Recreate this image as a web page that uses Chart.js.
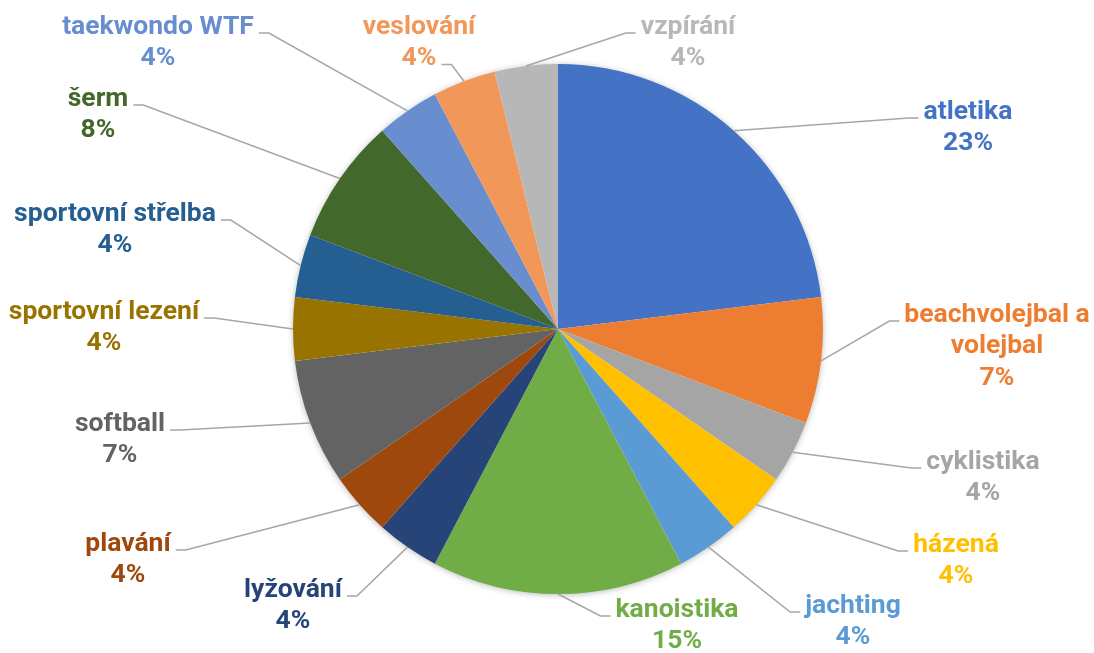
<!DOCTYPE html>
<html>
<head>
<meta charset="utf-8">
<title>Sporty</title>
<script src="https://cdn.jsdelivr.net/npm/chart.js"></script>
<style>
  body { margin: 0; background: #fff; }
</style>
</head>
<body>
<canvas id="pie" width="1094" height="653"></canvas>
<script>
const sports = ['atletika', ['beachvolejbal a', 'volejbal'], 'cyklistika', 'házená', 'jachting',
  'kanoistika', 'lyžování', 'plavání', 'softball', 'sportovní lezení', 'sportovní střelba',
  'šerm', 'taekwondo WTF', 'veslování', 'vzpírání'];
// counts (slice sizes) and the percentages as printed on the labels
const counts = [6, 2, 1, 1, 1, 4, 1, 1, 2, 1, 1, 2, 1, 1, 1];
const percents = [23, 7, 4, 4, 4, 15, 4, 4, 7, 4, 4, 8, 4, 4, 4];
const colours = ['#4472C4', '#ED7D31', '#A5A5A5', '#FFC000', '#5B9BD5', '#70AD47', '#264478',
  '#9E480E', '#636363', '#997300', '#255E91', '#43682B', '#698ED0', '#F1975A', '#B7B7B7'];

// where each label sits (first text line, relative to the pie centre) and
// which side / line the leader line joins: L = left, R = right, digit = line
const labelOffset = [[410, -217], [439, -14], [425, 133], [398, 216], [295, 277],
  [119, 281], [-265, 261], [-430, 215], [-438, 95], [-454, -17], [-443, -115],
  [-460, -230], [-400, -302], [-139, -302], [130, -302]];
const labelJoin = ['L1', 'L1', 'L1', 'L1', 'L1', 'L1', 'R1', 'R1', 'R1', 'R1', 'R1',
  'R1', 'R1', 'R2', 'L1'];

const LINE_H = 31.5;

const pieShadow = {
  id: 'pieShadow',
  beforeDatasetsDraw(chart) {
    const arc = chart.getDatasetMeta(0).data[0];
    const {x, y, outerRadius} = arc.getProps(['x', 'y', 'outerRadius'], true);
    const ctx = chart.ctx;
    ctx.save();
    ctx.shadowColor = 'rgba(0,0,0,0.35)';
    ctx.shadowBlur = 7;
    ctx.shadowOffsetY = 1;
    ctx.fillStyle = '#fff';
    ctx.beginPath();
    ctx.arc(x, y, outerRadius - 1, 0, Math.PI * 2);
    ctx.fill();
    ctx.restore();
  }
};

const outsideLabels = {
  id: 'outsideLabels',
  afterDatasetsDraw(chart) {
    const ctx = chart.ctx;
    const meta = chart.getDatasetMeta(0);
    ctx.save();
    ctx.font = 'bold 26.5px Roboto';
    ctx.textAlign = 'center';
    ctx.textBaseline = 'middle';
    meta.data.forEach((arc, i) => {
      const {x, y, startAngle, endAngle, outerRadius} =
        arc.getProps(['x', 'y', 'startAngle', 'endAngle', 'outerRadius'], true);
      const mid = (startAngle + endAngle) / 2;
      const px = x + Math.cos(mid) * outerRadius;
      const py = y + Math.sin(mid) * outerRadius;

      const lines = [].concat(sports[i], percents[i] + '%');
      const cx = x + labelOffset[i][0];
      const cy = y + labelOffset[i][1];
      const side = labelJoin[i][0] === 'L' ? -1 : 1;
      const row = Number(labelJoin[i][1]) - 1;
      const w = ctx.measureText(lines[row]).width;
      const ly = cy + row * LINE_H + 6;
      const ex = cx + side * (w / 2 + 5);
      const sx = ex + side * 10;

      ctx.strokeStyle = '#A6A6A6';
      ctx.lineWidth = 1.5;
      ctx.beginPath();
      ctx.moveTo(px, py);
      ctx.lineTo(sx, ly);
      ctx.lineTo(ex, ly);
      ctx.stroke();

      ctx.fillStyle = colours[i];
      lines.forEach((t, k) => ctx.fillText(t, cx, cy + k * LINE_H));
    });
    ctx.restore();
  }
};

new Chart(document.getElementById('pie'), {
  type: 'pie',
  data: {
    labels: sports,
    datasets: [{
      data: counts,
      backgroundColor: colours,
      borderWidth: 0,
      hoverOffset: 0
    }]
  },
  options: {
    responsive: false,
    animation: false,
    layout: { padding: { left: 293, right: 271, top: 64, bottom: 59 } },
    plugins: {
      legend: { display: false },
      tooltip: { enabled: false }
    }
  },
  plugins: [pieShadow, outsideLabels]
});
</script>
</body>
</html>
